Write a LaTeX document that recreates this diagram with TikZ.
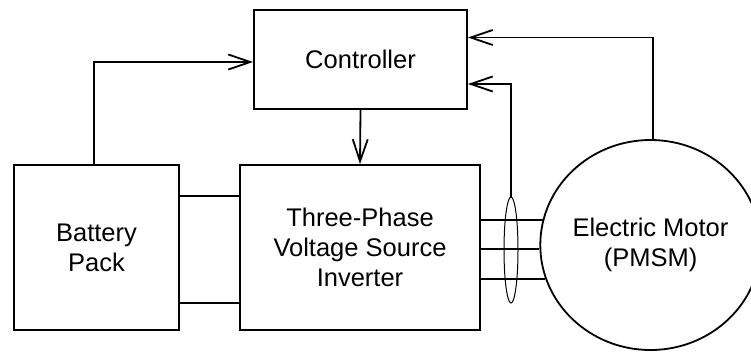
\documentclass[tikz,border=0pt]{standalone}
\usepackage{fontspec}
\setmainfont{Liberation Sans}
\usetikzlibrary{arrows.meta,shapes.geometric}
\begin{document}
\begin{tikzpicture}[x=1pt,y=-1pt,
  blk/.style={draw,line width=1.8pt,rectangle,inner sep=0pt,align=center,
    font=\fontsize{25.5}{30}\selectfont},
  wire/.style={line width=1.8pt},
  arr/.style={wire,-{Straight Barb[length=22pt,width=15pt]}}]
\useasboundingbox (0,0) rectangle (751,351);
\node[blk,minimum width=213pt,minimum height=99pt] (ctrl) at (360.5,59.5) {Controller};
\node[blk,minimum width=165pt,minimum height=165pt] (bat) at (96.5,247.5) {Battery\\Pack};
\node[blk,minimum width=240pt,minimum height=165pt] (inv) at (360,247.5) {Three-Phase\\Voltage Source\\Inverter};
\node[blk,ellipse,minimum width=201pt,minimum height=210pt] (mot) at (650.5,245) {Electric Motor\\(PMSM)};
\node[draw,ellipse,line width=1pt,minimum width=14pt,minimum height=106pt,inner sep=0pt] (ell) at (511,250) {};
\coordinate (bt) at ([yshift=51.5pt]bat.east);
\coordinate (bb) at ([yshift=-55.5pt]bat.east);
% battery to controller
\draw[arr] ([xshift=-2.5pt]bat.north) |- ([yshift=-2.5pt]ctrl.west);
% controller to inverter
\draw[arr] (ctrl.south) -- (inv.north);
% motor to controller
\draw[arr] ([xshift=2.5pt]mot.north) |- ([yshift=22pt]ctrl.east);
% current sensor to controller
\draw[arr] (ell.north) |- ([yshift=-24.5pt]ctrl.east);
% battery to inverter
\draw[wire] (bt) -- (inv.west |- bt);
\draw[wire] (bb) -- (inv.west |- bb);
% three phase lines
\draw[wire] (inv.east |- mot.167.4) -- (mot.167.4);
\draw[wire] (inv.east |- mot.182.3) -- (mot.182.3);
\draw[wire] (inv.east |- mot.198.5) -- (mot.198.5);
\end{tikzpicture}
\end{document}
